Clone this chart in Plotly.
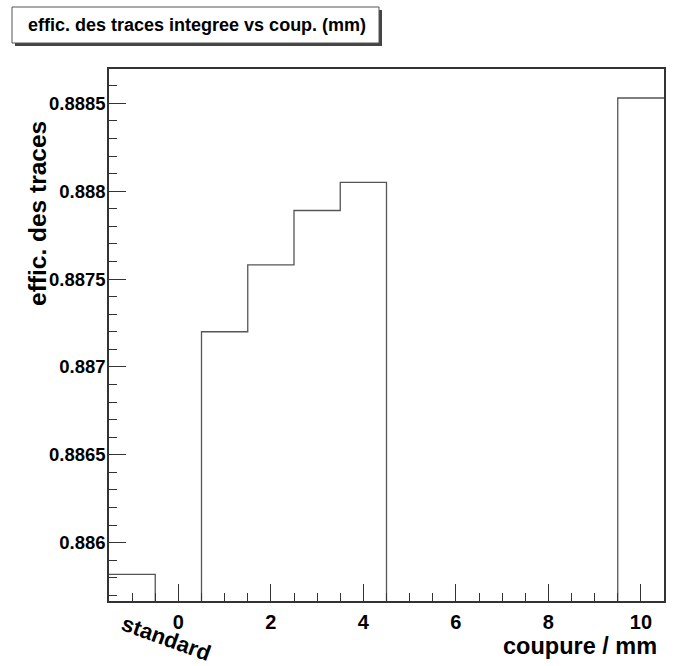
import plotly.graph_objects as go

# ---- data ----
bin_centers = [-1, 0, 1, 2, 3, 4, 5, 6, 7, 8, 9, 10]
efficiency = [0.88582, 0.0, 0.88720, 0.88758, 0.88789, 0.88805,
              0.0, 0.0, 0.0, 0.0, 0.0, 0.88853]
x_tick_vals = [0, 2, 4, 6, 8, 10]
x_tick_text = ["0", "2", "4", "6", "8", "10"]
y_tick_vals = [0.886, 0.8865, 0.887, 0.8875, 0.888, 0.8885]
y_tick_text = ["0.886", "0.8865", "0.887", "0.8875", "0.888", "0.8885"]
special_label_x = -1
special_label = "standard"
title_text = "effic. des traces integree vs coup. (mm)"
x_title = "coupure / mm"
y_title = "effic. des traces"

bin_width = 1.0
x_range = [bin_centers[0] - bin_width / 2, bin_centers[-1] + bin_width / 2]
y_range = [0.885668, 0.888695]

# step outline built from bin edges
edges = [c - bin_width / 2 for c in bin_centers] + [bin_centers[-1] + bin_width / 2]
step_y = efficiency + [efficiency[-1]]

W, H = 688, 666
ml, mr, mt, mb = 109, 24, 69, 65
pw, ph = W - ml - mr, H - mt - mb

def px_x(p):
    return (p - ml) / pw

def px_y(p):
    return 1 - (p - mt) / ph

FONT = "Liberation Sans, Arial, Helvetica, sans-serif"
LINE = "#333333"

fig = go.Figure()
fig.add_trace(go.Scatter(
    x=edges, y=step_y, mode="lines", line_shape="hv",
    line=dict(color="#555555", width=1.3), showlegend=False, hoverinfo="skip",
))

fig.update_layout(
    width=W, height=H, autosize=False,
    margin=dict(l=ml, r=mr, t=mt, b=mb),
    paper_bgcolor="white", plot_bgcolor="white",
    font=dict(family=FONT, color="black"),
    showlegend=False,
)

fig.update_xaxes(
    range=x_range, showgrid=False, zeroline=False,
    showline=True, linecolor=LINE, linewidth=1.5, mirror=True,
    ticks="inside", ticklen=17, tickwidth=1, tickcolor=LINE,
    tickmode="array", tickvals=x_tick_vals, ticktext=x_tick_text,
    tickfont=dict(size=20, family=FONT, weight="bold", color="black"),
    ticklabelstandoff=2,
    minor=dict(ticks="inside", ticklen=8, tickwidth=1, tickcolor=LINE,
               tick0=0, dtick=0.5, showgrid=False),
)
fig.update_yaxes(
    range=y_range, showgrid=False, zeroline=False,
    showline=True, linecolor=LINE, linewidth=1.5, mirror=True,
    ticks="inside", ticklen=17, tickwidth=1, tickcolor=LINE,
    tickmode="array", tickvals=y_tick_vals, ticktext=y_tick_text,
    tickfont=dict(size=18.5, family=FONT, weight="bold", color="black"),
    ticklabelstandoff=-2,
    minor=dict(ticks="inside", ticklen=8, tickwidth=1, tickcolor=LINE,
               tick0=0.886, dtick=0.0001, showgrid=False),
)

# title box with shadow
fig.add_shape(type="rect", xref="paper", yref="paper",
              x0=px_x(15), x1=px_x(382), y0=px_y(46), y1=px_y(10),
              line=dict(width=0), fillcolor="#444444", layer="above")
fig.add_shape(type="rect", xref="paper", yref="paper",
              x0=px_x(12), x1=px_x(379), y0=px_y(43), y1=px_y(7),
              line=dict(width=1, color="#555555"), fillcolor="white", layer="above")
fig.add_annotation(xref="paper", yref="paper", x=px_x(197), y=px_y(25),
                   text=title_text, showarrow=False,
                   font=dict(size=18, family=FONT, weight="bold", color="black"),
                   xanchor="center", yanchor="middle")

# axis titles
fig.add_annotation(xref="paper", yref="paper", x=px_x(38), y=px_y(214),
                   text=y_title, showarrow=False, textangle=-90,
                   font=dict(size=24.5, family=FONT, weight="bold", color="black"),
                   xanchor="center", yanchor="middle")
fig.add_annotation(xref="paper", yref="paper", x=px_x(659), y=px_y(646),
                   text=x_title, showarrow=False,
                   font=dict(size=23.5, family=FONT, weight="bold", color="black"),
                   xanchor="right", yanchor="middle")

# rotated bin label
fig.add_annotation(xref="x", yref="paper", x=special_label_x + 0.75, y=px_y(638),
                   text=special_label, showarrow=False, textangle=20,
                   font=dict(size=22, family=FONT, weight="bold", color="black"),
                   xanchor="center", yanchor="middle")

fig.write_html("out.html", config={"displayModeBar": False},
               post_script="document.body.style.margin='0';document.body.style.overflow='hidden';")
